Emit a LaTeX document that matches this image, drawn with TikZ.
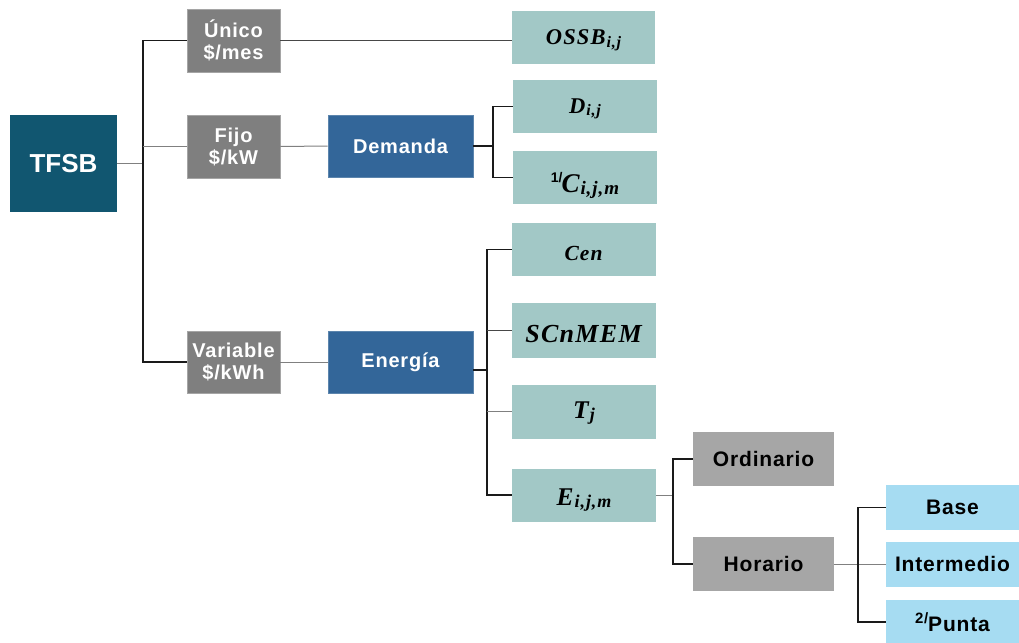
\documentclass[tikz,border=0pt]{standalone}
\usepackage{fontspec}
\setmainfont{Liberation Sans}
\newfontfamily\lsf{Liberation Sans}[LetterSpace=4]
\newfontfamily\mfontbase{Liberation Serif}[LetterSpace=5]
\newcommand{\mfont}{\mfontbase\bfseries\itshape}
\definecolor{cTF}{HTML}{115670}
\definecolor{cGr}{HTML}{7F7F7F}
\definecolor{cBl}{HTML}{336699}
\definecolor{cTe}{HTML}{A2C8C6}
\definecolor{cLg}{HTML}{A6A6A6}
\definecolor{cLb}{HTML}{A6DCF2}
\definecolor{cLine}{HTML}{1A1A1A}
\definecolor{cGl}{HTML}{808080}
% \mv{size}{subsize}{baseline offset}{main}{sub}
\newcommand{\mv}[5]{\raisebox{-#3}[0pt][0pt]{{\fontsize{#1}{#1}\selectfont\mfont #4}\kern1pt\raisebox{-0.22em}{\fontsize{#2}{#2}\selectfont\mfont #5}}}
\tikzset{
  bx/.style={rectangle, inner sep=0pt, align=center, font=\bfseries},
  tfbox/.style={bx, fill=cTF, text=white, font=\fontsize{26}{30}\selectfont\bfseries},
  grbox/.style={bx, fill=cGr, draw=cGr!70!white, line width=0.6pt, text=white, font=\fontsize{20}{23}\selectfont\lsf\bfseries},
  blbox/.style={bx, fill=cBl, draw=cBl!80!white, line width=0.6pt, text=white, font=\fontsize{20}{24}\selectfont\lsf\bfseries},
  tebox/.style={bx, fill=cTe, text=black},
  lgbox/.style={bx, fill=cLg, text=black, font=\fontsize{21}{25}\selectfont\lsf\bfseries},
  lbbox/.style={bx, fill=cLb, text=black, font=\fontsize{21}{25}\selectfont\lsf\bfseries},
  blk/.style={draw=cLine, line width=1.6pt},
  gln/.style={draw=cGl, line width=1pt},
  dkl/.style={draw=cLine!80!white, line width=1.1pt},
}
\begin{document}
\begin{tikzpicture}[x=1pt,y=-1pt]
\useasboundingbox (0,0) rectangle (1019,642);
% nodes
\node[tfbox, minimum width=107pt, minimum height=97pt] (tfsb) at (63.5,163.5) {TFSB};
\node[grbox, minimum width=93pt, minimum height=63pt] (unico) at (233.5,40.5) {Único\\[-1pt]\$/mes};
\node[grbox, minimum width=93pt, minimum height=63pt] (fijo) at (233.5,146.5) {Fijo\\[-1pt]\$/kW};
\node[grbox, minimum width=93pt, minimum height=62pt] (variable) at (233.5,362) {Variable\\[-1pt]\$/kWh};
\node[blbox, minimum width=145pt, minimum height=62pt] (demanda) at (400.5,146) {Demanda};
\node[blbox, minimum width=145pt, minimum height=62pt] (energia) at (400.5,362) {Energía};
\node[tebox, minimum width=143pt, minimum height=53pt] (ossb) at (583.5,37.5) {\mv{22.5}{16}{7.5pt}{OSSB}{i,j}};
\node[tebox, minimum width=144pt, minimum height=53pt] (d) at (585,106.5) {\mv{22.5}{16}{6.5pt}{D}{i,j}};
\node[tebox, minimum width=144pt, minimum height=53pt] (c) at (585,177.5) {\raisebox{-15pt}[0pt][0pt]{\fontsize{14}{16}\selectfont\raisebox{10pt}{1/}}\kern-1pt\mv{27}{19}{15pt}{C}{i,j,m}};
\node[tebox, minimum width=144pt, minimum height=53pt] (cen) at (584,249.5) {\mv{21.5}{15}{10.5pt}{Cen}{}};
\node[tebox, minimum width=144pt, minimum height=55pt] (scn) at (584,330.5) {\mv{26}{18}{11.5pt}{SCnMEM}{}};
\node[tebox, minimum width=144pt, minimum height=54pt] (tj) at (584,411.5) {\mv{25.5}{18}{6.5pt}{T}{j}};
\node[tebox, minimum width=144pt, minimum height=53pt] (e) at (584,495) {\mv{25.5}{18}{10pt}{E}{i,j,m}};
\node[lgbox, minimum width=141pt, minimum height=54pt] (ord) at (763.5,459) {Ordinario};
\node[lgbox, minimum width=141pt, minimum height=54pt] (hor) at (763.5,564) {Horario};
\node[lbbox, minimum width=133pt, minimum height=45pt] (base) at (952.5,507.5) {Base};
\node[lbbox, minimum width=133pt, minimum height=45pt] (inter) at (952.5,564) {Intermedio};
\node[lbbox, minimum width=133pt, minimum height=44pt] (punta) at (952.5,622) {{\fontsize{15}{16}\selectfont\raisebox{8pt}{2/}}Punta};
% bus coordinates
\coordinate (bus1) at (143,163.5);
\coordinate (bus2) at (493,146);
\coordinate (bus3) at (487,370);
\coordinate (bus4) at (673,495);
\coordinate (bus5) at (858,564);
% connectors
\draw[gln] (tfsb.east) -- (bus1);
\draw[blk] (unico.west) -| (bus1) |- (variable.west);
\draw[gln] (fijo.west) -- (fijo.west -| bus1);
\draw[dkl] (unico.east) -- (unico.east -| ossb.west);
\draw[gln] (fijo.east) -- (demanda.west);
\draw[blk] (demanda.east) -- (bus2);
\draw[blk] (d.west) -| (bus2) |- (c.west);
\draw[gln] (variable.east) -- (energia.west);
\draw[blk] ([yshift=-8pt]energia.east) -- (bus3);
\draw[blk] (cen.west) -| (bus3) |- (e.west);
\draw[dkl] (scn.west) -- (scn.west -| bus3);
\draw[gln] (tj.west) -- (tj.west -| bus3);
\draw[gln] (e.east) -- (bus4);
\draw[blk] (ord.west) -| (bus4) |- (hor.west);
\draw[gln] (hor.east) -- (inter.west);
\draw[blk] (base.west) -| (bus5) |- (punta.west);
\end{tikzpicture}
\end{document}
